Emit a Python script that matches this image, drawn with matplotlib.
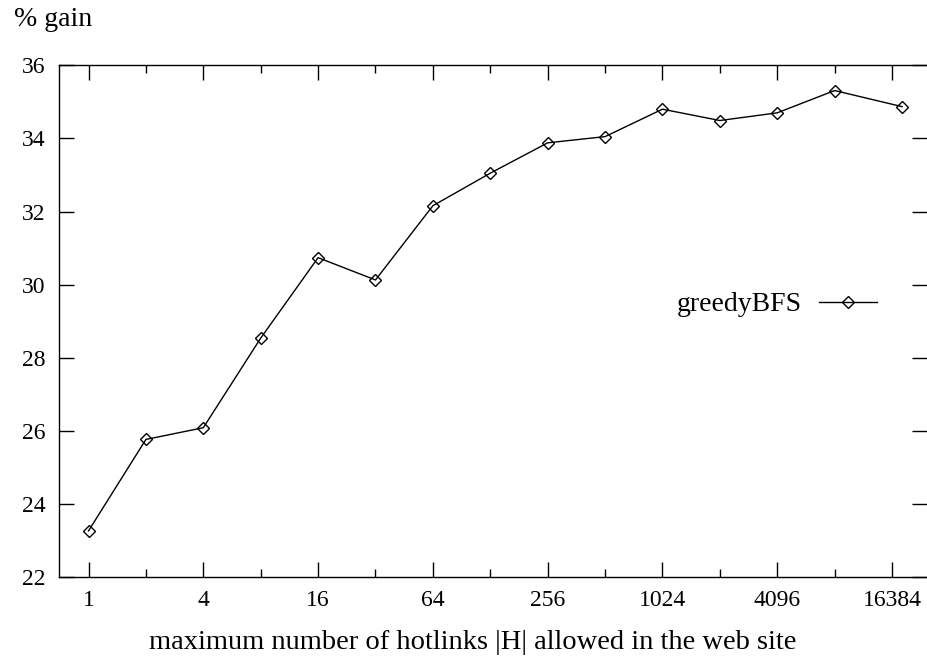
import matplotlib
matplotlib.use("Agg")
import matplotlib.pyplot as plt
from matplotlib.ticker import FixedLocator, NullFormatter

# hotlinks allowed (log2 scale) and % gain of greedyBFS
hotlinks = [1, 2, 4, 8, 16, 32, 64, 128, 256, 512, 1024, 2048, 4096, 8192, 18500]
gain = [23.27, 25.77, 26.09, 28.54, 30.74, 30.13, 32.16, 33.05, 33.88,
        34.05, 34.80, 34.49, 34.70, 35.31, 34.87]

major_x = [1, 4, 16, 64, 256, 1024, 4096, 16384]
minor_x = [2, 8, 32, 128, 512, 2048, 8192]
y_ticks = [22, 24, 26, 28, 30, 32, 34, 36]

plt.rcParams["font.family"] = ["Liberation Serif", "DejaVu Serif"]

fig = plt.figure(figsize=(9.27, 6.60), dpi=100)
ax = fig.add_axes([59 / 927, 1 - 577.3 / 660, 868 / 927, 512 / 660])

ax.plot(hotlinks, gain, color="black", linewidth=1.0, marker="D",
        markersize=6.5, markerfacecolor="none", markeredgecolor="black",
        markeredgewidth=1.0, label="greedyBFS")

ax.set_xscale("log", base=2)
ax.set_xlim(0.7, 25000)
ax.set_ylim(22, 36)

ax.xaxis.set_major_locator(FixedLocator(major_x))
ax.xaxis.set_minor_locator(FixedLocator(minor_x))
ax.xaxis.set_minor_formatter(NullFormatter())
ax.set_xticklabels([str(v) for v in major_x])
ax.set_yticks(y_ticks)

ax.tick_params(axis="both", which="major", direction="in", length=11,
               width=1.0, top=True, right=True, labelsize=17, pad=9)
ax.tick_params(axis="x", which="minor", direction="in", length=5.5,
               width=1.0, top=True)
ax.tick_params(axis="y", which="major", pad=9.5)
for side in ["left", "bottom", "top"]:
    ax.spines[side].set_linewidth(1.0)
ax.spines["right"].set_visible(False)

fig.text(14 / 927, 1 - 20 / 660, "% gain", fontsize=20, va="center", ha="left")
fig.text(473 / 927, 1 - 649 / 660, "maximum number of hotlinks |H| allowed in the web site",
         fontsize=20.5, ha="center", va="baseline")

ax.legend(loc="center right", bbox_to_anchor=(818 / 868, (577.3 - 304.7) / 512),
          frameon=False, markerfirst=False, fontsize=20, handlelength=2.1,
          handletextpad=0.6, borderpad=0, borderaxespad=0)

fig.savefig("out.png", dpi=100)
